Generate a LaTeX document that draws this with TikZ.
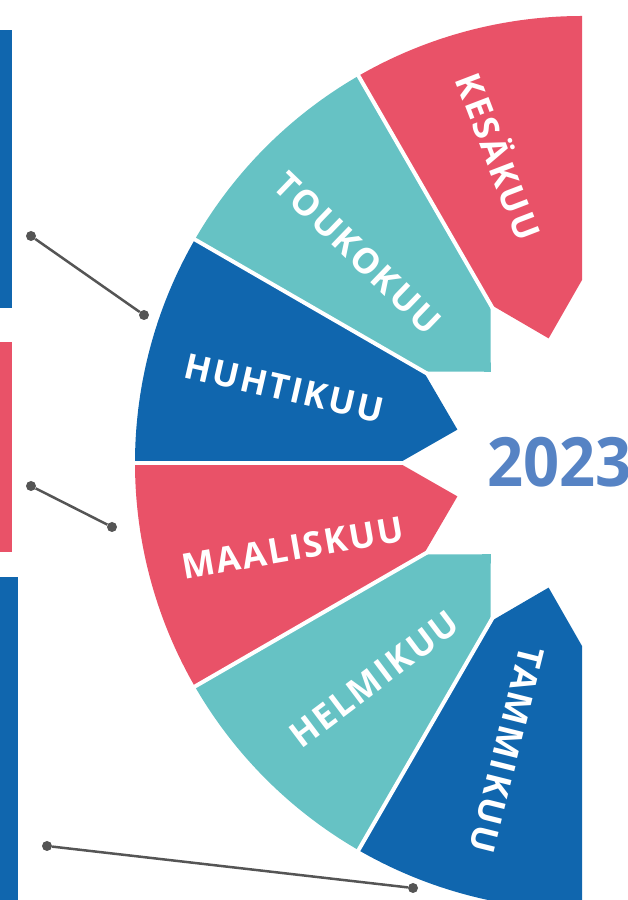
\documentclass[tikz,border=0pt]{standalone}
\usepackage{fontspec}
\setmainfont{Open Sans}
\definecolor{mblue}{RGB}{16,102,174}
\definecolor{mteal}{RGB}{102,194,196}
\definecolor{mred}{RGB}{233,82,104}
\definecolor{yblue}{RGB}{86,131,196}
\definecolor{cgray}{RGB}{85,85,85}
\begin{document}
\begin{tikzpicture}[x=1pt,y=1pt,
  month/.style={text=white, inner sep=0pt, text height=25pt, text depth=0pt,
    font=\fontsize{35}{35}\selectfont\bfseries\addfontfeature{LetterSpace=6}},
  dotnode/.style={circle, fill=cgray, inner sep=0pt, minimum size=10pt},
  link/.style={cgray, line width=2.5pt},
  gapline/.style={white, line width=4pt}]
\useasboundingbox (0,0) rectangle (627,900);
\clip (0,0) rectangle (627,900);
% left bars
\fill[mblue] (0,592) rectangle (12,870);
\fill[mred] (0,348) rectangle (12,558);
\fill[mblue] (0,0) rectangle (18,323);
% sectors
\begin{scope}[shift={(582,437)}]
  \foreach \m/\c in {105/mred,135/mteal,165/mblue,195/mred,225/mteal,255/mblue}{
    \fill[\c] (\m:129pt) -- ({\m-15}:183pt) -- ({\m-15}:447pt)
      arc[start angle={\m-15}, end angle={\m+15}, radius=447pt]
      -- ({\m+15}:183pt) -- cycle;
  }
  \foreach \a in {120,150,180,210,240}
    \draw[gapline] (\a:170pt) -- (\a:460pt);
\end{scope}
% labels
\node[month, rotate=-69] (kes) at (498,743) {KESÄKUU};
\node[month, rotate=-44] (tou) at (358,647) {TOUKOKUU};
\node[month, rotate=-13] (huh) at (284,512) {HUHTIKUU};
\node[month, rotate=10] (maa) at (293,352) {MAALISKUU};
\node[month, rotate=37] (hel) at (374,221) {HELMIKUU};
\node[month, rotate=-104] (tam) at (507,150) {TAMMIKUU};
\node[anchor=base west, inner sep=0pt, text=yblue, xscale=0.93,
  font=\fontsize{68}{68}\selectfont\bfseries] (year) at (487,413) {2023};
% connectors
\node[dotnode] (d1a) at (31,664) {};
\node[dotnode] (d1b) at (144,585) {};
\node[dotnode] (d2a) at (31,414) {};
\node[dotnode] (d2b) at (112,373) {};
\node[dotnode] (d3a) at (47,54) {};
\node[dotnode] (d3b) at (413,12) {};
\draw[link] (d1a) -- (d1b);
\draw[link] (d2a) -- (d2b);
\draw[link] (d3a) -- (d3b);
\end{tikzpicture}
\end{document}
